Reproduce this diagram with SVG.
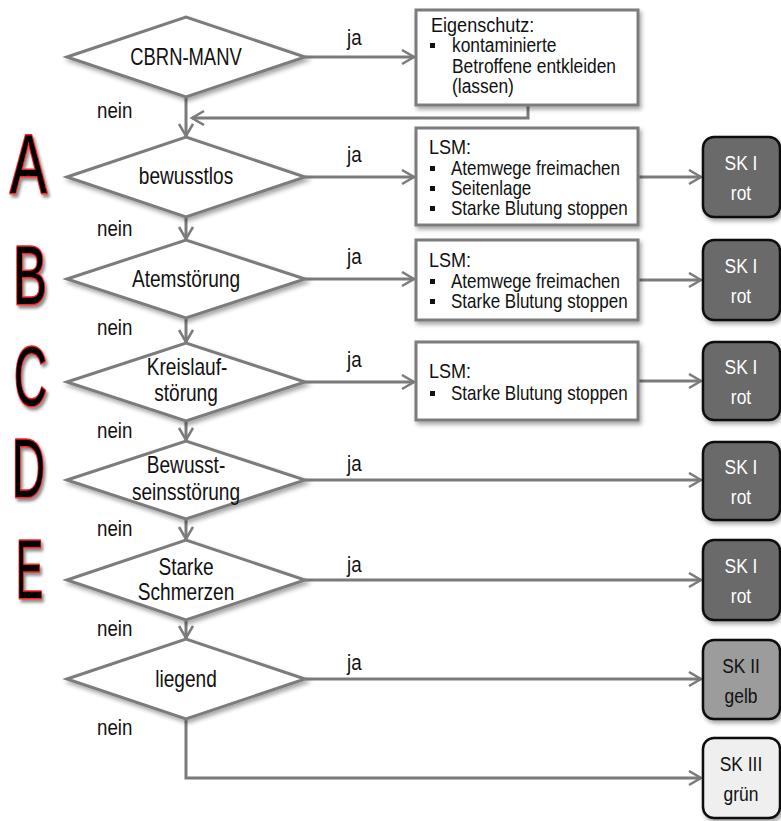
<svg xmlns="http://www.w3.org/2000/svg" width="781" height="821" viewBox="0 0 781 821">
  <defs>
    <style>
      text { font-family: 'Liberation Sans', Arial, sans-serif; fill: #111; }
      .dia { fill: #fff; stroke: #7b7b7b; stroke-width: 3; filter: url(#shadow); }
      .box { fill: #fff; stroke: #7b7b7b; stroke-width: 3; filter: url(#shadow); }
      .sk { stroke: #111; stroke-width: 2.5; filter: url(#shadow); }
      .sk1 { fill: #6b6b6b; }
      .sk2 { fill: #9c9c9c; }
      .sk3 { fill: #efefef; }
      .lbl { font-size: 23px; text-anchor: middle; }
      .yn { font-size: 22px; }
      .t { font-size: 20px; }
      .title { font-size: 21px; }
      .skt { font-size: 21px; text-anchor: middle; }
      .white { fill: #fff; }
      .bullet { fill: #111; }
      .conn path { fill: none; stroke: #7b7b7b; stroke-width: 3; }
      .big { font-size: 84px; fill: #000; stroke: #ff2020; stroke-width: 3; paint-order: stroke; stroke-linejoin: round; filter: url(#lshadow); }
    </style>
    <filter id="shadow" x="-10%" y="-10%" width="130%" height="140%">
      <feDropShadow dx="2" dy="3" stdDeviation="2" flood-color="#000" flood-opacity="0.35"/>
    </filter>
    <filter id="lshadow" x="-30%" y="-20%" width="160%" height="150%">
      <feDropShadow dx="2" dy="3" stdDeviation="1.5" flood-color="#000" flood-opacity="0.45"/>
    </filter>
    <marker id="arr" markerUnits="userSpaceOnUse" markerWidth="16" markerHeight="18" viewBox="0 0 16 18" refX="13" refY="8" orient="auto">
      <path d="M1,1 L13,8 L1,15" fill="none" stroke="#7b7b7b" stroke-width="2.5"/>
    </marker>
  </defs>

  <!-- connectors -->
  <g id="connectors" class="conn">
    <path d="M305,57 H414" marker-end="url(#arr)"/>
    <path d="M528,105 V118 H192" marker-end="url(#arr)"/>
    <path d="M186,97 V136" marker-end="url(#arr)"/>
    <path d="M305,177 H414" marker-end="url(#arr)"/>
    <path d="M638,177 H701" marker-end="url(#arr)"/>
    <path d="M186,217 V239" marker-end="url(#arr)"/>
    <path d="M305,279 H414" marker-end="url(#arr)"/>
    <path d="M638,280 H701" marker-end="url(#arr)"/>
    <path d="M186,318 V342" marker-end="url(#arr)"/>
    <path d="M305,382 H414" marker-end="url(#arr)"/>
    <path d="M638,381 H701" marker-end="url(#arr)"/>
    <path d="M186,421 V440" marker-end="url(#arr)"/>
    <path d="M305,480 H701" marker-end="url(#arr)"/>
    <path d="M186,519 V539" marker-end="url(#arr)"/>
    <path d="M305,580 H701" marker-end="url(#arr)"/>
    <path d="M186,620 V638" marker-end="url(#arr)"/>
    <path d="M305,679 H701" marker-end="url(#arr)"/>
    <path d="M186,719 V778 H701" marker-end="url(#arr)"/>
  </g>

  <!-- edge labels (condensed by a horizontal scale) -->
  <g id="edge-labels">
    <text class="yn" transform="translate(347,45) scale(0.85,1)">ja</text>
    <text class="yn" transform="translate(347,162) scale(0.85,1)">ja</text>
    <text class="yn" transform="translate(347,264) scale(0.85,1)">ja</text>
    <text class="yn" transform="translate(347,367) scale(0.85,1)">ja</text>
    <text class="yn" transform="translate(347,471) scale(0.85,1)">ja</text>
    <text class="yn" transform="translate(347,572) scale(0.85,1)">ja</text>
    <text class="yn" transform="translate(347,670) scale(0.85,1)">ja</text>
    <text class="yn" transform="translate(97,118) scale(0.85,1)">nein</text>
    <text class="yn" transform="translate(97,236) scale(0.85,1)">nein</text>
    <text class="yn" transform="translate(97,335) scale(0.85,1)">nein</text>
    <text class="yn" transform="translate(97,438) scale(0.85,1)">nein</text>
    <text class="yn" transform="translate(97,536) scale(0.85,1)">nein</text>
    <text class="yn" transform="translate(97,636) scale(0.85,1)">nein</text>
    <text class="yn" transform="translate(97,735) scale(0.85,1)">nein</text>
  </g>

  <!-- ABCDE letters -->
  <g id="abcde">
    <text class="big" x="10" y="193" textLength="37" lengthAdjust="spacingAndGlyphs">A</text>
    <text class="big" x="13" y="304" textLength="34" lengthAdjust="spacingAndGlyphs">B</text>
    <text class="big" x="14" y="405" textLength="33" lengthAdjust="spacingAndGlyphs">C</text>
    <text class="big" x="12" y="497" textLength="33" lengthAdjust="spacingAndGlyphs">D</text>
    <text class="big" x="16" y="598" textLength="27" lengthAdjust="spacingAndGlyphs">E</text>
  </g>

  <!-- decisions -->
  <g id="d-cbrn">
    <polygon class="dia" points="67,57 186,17 305,57 186,97"/>
    <text class="lbl" transform="translate(186,65) scale(0.8,1)">CBRN-MANV</text>
  </g>
  <g id="d-bewusstlos">
    <polygon class="dia" points="67,177 186,137 305,177 186,217"/>
    <text class="lbl" transform="translate(186,184) scale(0.83,1)">bewusstlos</text>
  </g>
  <g id="d-atem">
    <polygon class="dia" points="67,279 186,240 305,279 186,318"/>
    <text class="lbl" transform="translate(186,287) scale(0.83,1)">Atemstörung</text>
  </g>
  <g id="d-kreislauf">
    <polygon class="dia" points="67,382 186,343 305,382 186,421"/>
    <text class="lbl" transform="translate(187,375) scale(0.83,1)">Kreislauf-</text>
    <text class="lbl" transform="translate(186,401) scale(0.83,1)">störung</text>
  </g>
  <g id="d-bewusstsein">
    <polygon class="dia" points="67,480 186,441 305,480 186,519"/>
    <text class="lbl" transform="translate(186,473) scale(0.83,1)">Bewusst-</text>
    <text class="lbl" transform="translate(186,500) scale(0.83,1)">seinsstörung</text>
  </g>
  <g id="d-schmerzen">
    <polygon class="dia" points="67,580 186,540 305,580 186,620"/>
    <text class="lbl" transform="translate(186,575) scale(0.83,1)">Starke</text>
    <text class="lbl" transform="translate(186,600) scale(0.83,1)">Schmerzen</text>
  </g>
  <g id="d-liegend">
    <polygon class="dia" points="67,679 186,639 305,679 186,719"/>
    <text class="lbl" transform="translate(186,687) scale(0.83,1)">liegend</text>
  </g>

  <!-- measures -->
  <g id="m-eigenschutz">
    <rect class="box" x="416" y="10" width="222" height="95"/>
    <text class="title" transform="translate(431,32) scale(0.86,1)">Eigenschutz:</text>
    <rect class="bullet" x="430" y="43" width="5" height="5"/>
    <text class="t" transform="translate(452,52) scale(0.87,1)">kontaminierte</text>
    <text class="t" transform="translate(452,73) scale(0.87,1)">Betroffene entkleiden</text>
    <text class="t" transform="translate(452,93) scale(0.87,1)">(lassen)</text>
  </g>
  <g id="m-lsm-a">
    <rect class="box" x="416" y="128" width="222" height="97"/>
    <text class="title" transform="translate(429,154) scale(0.86,1)">LSM:</text>
    <rect class="bullet" x="430" y="166" width="5" height="5"/>
    <text class="t" transform="translate(451,175) scale(0.85,1)">Atemwege freimachen</text>
    <rect class="bullet" x="430" y="186" width="5" height="5"/>
    <text class="t" transform="translate(451,195) scale(0.85,1)">Seitenlage</text>
    <rect class="bullet" x="430" y="206" width="5" height="5"/>
    <text class="t" transform="translate(451,215) scale(0.85,1)">Starke Blutung stoppen</text>
  </g>
  <g id="m-lsm-b">
    <rect class="box" x="416" y="240" width="222" height="80"/>
    <text class="title" transform="translate(429,267) scale(0.86,1)">LSM:</text>
    <rect class="bullet" x="430" y="279" width="5" height="5"/>
    <text class="t" transform="translate(451,288) scale(0.85,1)">Atemwege freimachen</text>
    <rect class="bullet" x="430" y="299" width="5" height="5"/>
    <text class="t" transform="translate(451,308) scale(0.85,1)">Starke Blutung stoppen</text>
  </g>
  <g id="m-lsm-c">
    <rect class="box" x="416" y="342" width="222" height="78"/>
    <text class="title" transform="translate(429,378) scale(0.86,1)">LSM:</text>
    <rect class="bullet" x="430" y="391" width="5" height="5"/>
    <text class="t" transform="translate(451,400) scale(0.85,1)">Starke Blutung stoppen</text>
  </g>

  <!-- triage categories -->
  <g id="sk-a">
    <rect class="sk sk1" x="703" y="137" width="77" height="80" rx="11"/>
    <text class="skt white" transform="translate(741,170) scale(0.83,1)">SK I</text>
    <text class="skt white" transform="translate(741,200) scale(0.83,1)">rot</text>
  </g>
  <g id="sk-b">
    <rect class="sk sk1" x="703" y="240" width="77" height="80" rx="11"/>
    <text class="skt white" transform="translate(741,273) scale(0.83,1)">SK I</text>
    <text class="skt white" transform="translate(741,303) scale(0.83,1)">rot</text>
  </g>
  <g id="sk-c">
    <rect class="sk sk1" x="703" y="342" width="77" height="78" rx="11"/>
    <text class="skt white" transform="translate(741,374) scale(0.83,1)">SK I</text>
    <text class="skt white" transform="translate(741,404) scale(0.83,1)">rot</text>
  </g>
  <g id="sk-d">
    <rect class="sk sk1" x="703" y="442" width="77" height="78" rx="11"/>
    <text class="skt white" transform="translate(741,474) scale(0.83,1)">SK I</text>
    <text class="skt white" transform="translate(741,504) scale(0.83,1)">rot</text>
  </g>
  <g id="sk-e">
    <rect class="sk sk1" x="703" y="540" width="77" height="80" rx="11"/>
    <text class="skt white" transform="translate(741,573) scale(0.83,1)">SK I</text>
    <text class="skt white" transform="translate(741,603) scale(0.83,1)">rot</text>
  </g>
  <g id="sk-gelb">
    <rect class="sk sk2" x="703" y="640" width="77" height="79" rx="11"/>
    <text class="skt" transform="translate(741,673) scale(0.83,1)">SK II</text>
    <text class="skt" transform="translate(741,703) scale(0.83,1)">gelb</text>
  </g>
  <g id="sk-gruen">
    <rect class="sk sk3" x="703" y="738" width="77" height="80" rx="11"/>
    <text class="skt" transform="translate(741,771) scale(0.83,1)">SK III</text>
    <text class="skt" transform="translate(741,801) scale(0.83,1)">grün</text>
  </g>
</svg>
